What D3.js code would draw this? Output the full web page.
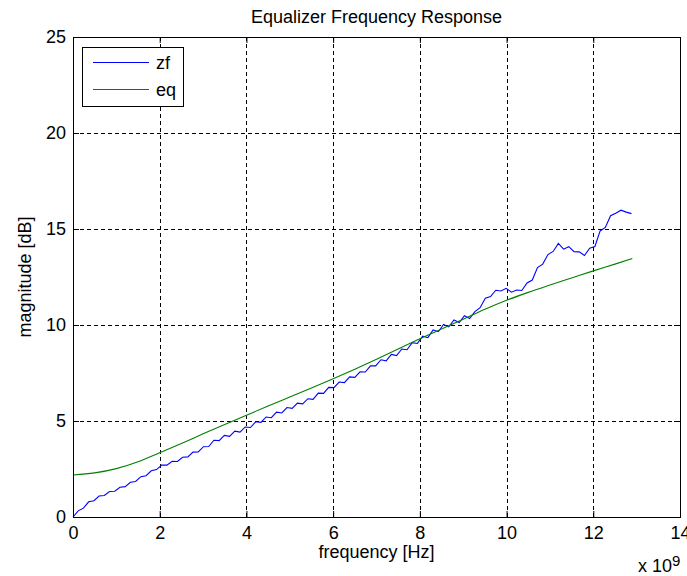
<!DOCTYPE html>
<html>
<head>
<meta charset="utf-8">
<script src="https://cdn.jsdelivr.net/npm/d3@7"></script>
<style>
  html, body { margin: 0; padding: 0; background: #fff; }
  svg { display: block; }
  text { font-family: "Liberation Sans", Arial, sans-serif; fill: #000; }
</style>
</head>
<body>
<svg id="chart" width="687" height="576"></svg>
<script>
// Axis ranges and tick labels
const xTicks = [0, 2, 4, 6, 8, 10, 12, 14];
const yTicks = [0, 5, 10, 15, 20, 25];

// Measured zero-forcing response (dB), uniform sweep from 0 to 12.88 GHz
const zfStartGHz = 0;
const zfEndGHz = 12.88;
const zfValues = [
  0.00, 0.32, 0.46, 0.79, 0.85, 1.09, 1.12, 1.33, 1.34, 1.55,
  1.58, 1.81, 1.85, 2.10, 2.15, 2.41, 2.47, 2.70, 2.70, 2.90,
  2.89, 3.11, 3.13, 3.38, 3.39, 3.66, 3.67, 4.00, 3.98, 4.25,
  4.20, 4.47, 4.42, 4.69, 4.66, 4.96, 4.93, 5.21, 5.17, 5.46,
  5.42, 5.70, 5.66, 5.93, 5.89, 6.16, 6.13, 6.45, 6.44, 6.75,
  6.74, 7.03, 7.00, 7.30, 7.27, 7.56, 7.55, 7.87, 7.87, 8.19,
  8.13, 8.47, 8.41, 8.75, 8.71, 9.08, 9.04, 9.42, 9.34, 9.74,
  9.65, 10.03, 9.90, 10.26, 10.13, 10.48, 10.34, 10.70, 10.90, 11.40,
  11.48, 11.81, 11.77, 11.91, 11.71, 11.82, 11.80, 12.19, 12.34, 12.99,
  13.17, 13.67, 13.83, 14.25, 13.95, 14.08, 13.82, 13.81, 13.62, 14.00,
  14.09, 14.90, 15.08, 15.69, 15.82, 15.98, 15.88, 15.80
];

// Equalizer response (dB)
const eqFreqGHz = [0, 0.5, 1, 1.5, 2, 2.5, 3, 3.5, 4, 4.5, 5, 5.5, 6, 6.5, 7,
                   7.5, 8, 8.5, 9, 9.5, 10, 10.5, 11, 11.5, 12, 12.5, 12.9];
const eqValues = [2.19, 2.30, 2.52, 2.88, 3.35, 3.83, 4.33, 4.82, 5.30, 5.78,
                  6.25, 6.72, 7.20, 7.70, 8.22, 8.75, 9.28, 9.79, 10.30, 10.82,
                  11.29, 11.70, 12.08, 12.45, 12.82, 13.17, 13.46];

const seriesNames = ["zf", "eq"];
const seriesColors = ["#0000ff", "#008000"];

const svg = d3.select("#chart");
const margin = { left: 73, top: 37, right: 687 - 680, bottom: 576 - 517 };
const W = 687 - margin.left - margin.right;
const H = 576 - margin.top - margin.bottom;

svg.append("rect").attr("width", 687).attr("height", 576).attr("fill", "#fff");

const x = d3.scaleLinear().domain([0, 14]).range([0, W]);
const y = d3.scaleLinear().domain([0, 25]).range([H, 0]);

const g = svg.append("g").attr("transform", `translate(${margin.left},${margin.top})`);

// Dashed grid
g.append("g").selectAll("line").data(xTicks.slice(1, -1)).join("line")
  .attr("x1", d => Math.round(x(d)) + 0.5).attr("x2", d => Math.round(x(d)) + 0.5)
  .attr("y1", 0).attr("y2", H)
  .attr("stroke", "#000").attr("stroke-width", 1).attr("stroke-dasharray", "4,3");
g.append("g").selectAll("line").data(yTicks.slice(1, -1)).join("line")
  .attr("y1", d => Math.round(y(d)) + 0.5).attr("y2", d => Math.round(y(d)) + 0.5)
  .attr("x1", 0).attr("x2", W)
  .attr("stroke", "#000").attr("stroke-width", 1).attr("stroke-dasharray", "4,3");

// Curves
const zfStep = (zfEndGHz - zfStartGHz) / (zfValues.length - 1);
const zfData = zfValues.map((v, i) => [zfStartGHz + i * zfStep, v]);
const eqData = eqValues.map((v, i) => [eqFreqGHz[i], v]);

g.append("path").datum(zfData)
  .attr("fill", "none").attr("stroke", seriesColors[0]).attr("stroke-width", 1.1)
  .attr("d", d3.line().x(d => x(d[0])).y(d => y(d[1])));
g.append("path").datum(eqData)
  .attr("fill", "none").attr("stroke", seriesColors[1]).attr("stroke-width", 1.1)
  .attr("d", d3.line().curve(d3.curveMonotoneX).x(d => x(d[0])).y(d => y(d[1])));

// Axes: ticks point inward on all four sides
const tickLen = 6;
const fmt = d3.format("d");
const axBottom = g.append("g").attr("transform", `translate(0,${H})`)
  .call(d3.axisBottom(x).tickValues(xTicks).tickFormat(fmt).tickSizeInner(-tickLen).tickSizeOuter(0).tickPadding(9));
const axTop = g.append("g")
  .call(d3.axisTop(x).tickValues(xTicks).tickFormat("").tickSizeInner(-tickLen).tickSizeOuter(0));
const axLeft = g.append("g")
  .call(d3.axisLeft(y).tickValues(yTicks).tickFormat(fmt).tickSizeInner(-tickLen).tickSizeOuter(0).tickPadding(7));
const axRight = g.append("g").attr("transform", `translate(${W},0)`)
  .call(d3.axisRight(y).tickValues(yTicks).tickFormat("").tickSizeInner(-tickLen).tickSizeOuter(0));

[axBottom, axTop, axLeft, axRight].forEach(a => {
  a.select(".domain").remove();
  a.selectAll("line").attr("stroke", "#000");
  a.selectAll("text").attr("font-size", 18).attr("font-family", "'Liberation Sans', Arial, sans-serif").attr("fill", "#000");
});

// Axes box
g.append("rect").attr("x", 0.5).attr("y", 0.5).attr("width", W).attr("height", H)
  .attr("fill", "none").attr("stroke", "#000").attr("stroke-width", 1);

// Legend
const leg = svg.append("g");
leg.append("rect").attr("x", 82.5).attr("y", 47.5).attr("width", 101).attr("height", 59)
  .attr("fill", "#fff").attr("stroke", "#000").attr("stroke-width", 1);
const legRows = [62.5, 89.5];
seriesNames.forEach((name, i) => {
  leg.append("line").attr("x1", 93).attr("x2", 149).attr("y1", legRows[i]).attr("y2", legRows[i])
    .attr("stroke", seriesColors[i]).attr("stroke-width", 1.1);
  leg.append("text").attr("x", 156).attr("y", legRows[i]).attr("dy", "0.35em")
    .attr("font-size", 18).text(name);
});

// Titles and labels
svg.append("text").attr("x", margin.left + W / 2).attr("y", 23)
  .attr("text-anchor", "middle").attr("font-size", 18).text("Equalizer Frequency Response");
svg.append("text").attr("x", margin.left + W / 2).attr("y", 558)
  .attr("text-anchor", "middle").attr("font-size", 18).text("frequency [Hz]");
svg.append("text").attr("transform", `translate(31,${margin.top + H / 2}) rotate(-90)`)
  .attr("text-anchor", "middle").attr("font-size", 18).text("magnitude [dB]");

// Axis exponent
const expo = svg.append("text").attr("x", 638).attr("y", 572).attr("font-size", 18);
expo.append("tspan").text("x 10");
expo.append("tspan").attr("dy", -6).attr("font-size", 15).text("9");
</script>
</body>
</html>
